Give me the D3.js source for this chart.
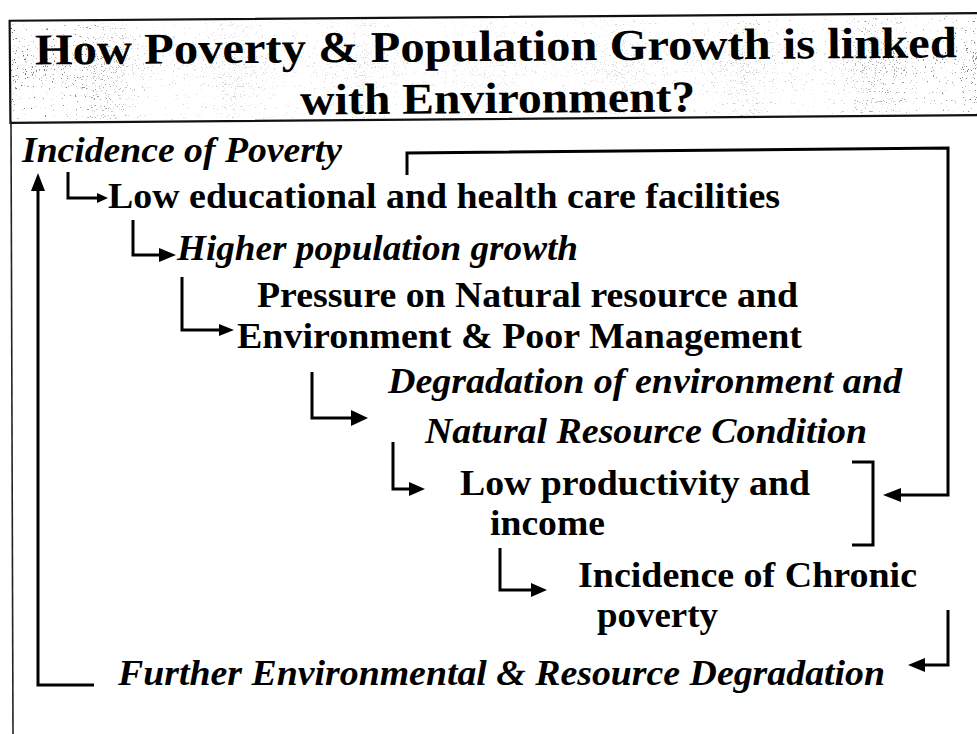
<!DOCTYPE html>
<html>
<head>
<meta charset="utf-8">
<script src="https://cdn.jsdelivr.net/npm/d3@7"></script>
<style>
  html, body { margin: 0; padding: 0; background: #fff; }
  svg { display: block; }
</style>
</head>
<body>
<div id="chart"></div>
<script>
// title lines
const titleLines = [
  "How Poverty & Population Growth is linked",
  "with Environment?"
]

// flow steps, top to bottom
const labels = [
  "Incidence of Poverty",
  "Low educational and health care facilities",
  "Higher population growth",
  "Pressure on Natural resource and",
  "Environment & Poor Management",
  "Degradation of environment and",
  "Natural Resource Condition",
  "Low productivity and",
  "income",
  "Incidence of Chronic",
  "poverty",
  "Further Environmental & Resource Degradation"
]
const italic = [true, false, true, false, false, true, true, false, false, false, false, true]

const W = 977, H = 734
const serif = '"Liberation Serif", "Times New Roman", Times, serif'

const svg = d3.select("#chart")
  .append("svg")
  .attr("width", W)
  .attr("height", H)
  .attr("viewBox", `0 0 ${W} ${H}`)

const defs = svg.append("defs")

// speckled scan texture for the title band
const noise = defs.append("filter")
  .attr("id", "speckle")
  .attr("x", 0).attr("y", 0).attr("width", "100%").attr("height", "100%")
noise.append("feTurbulence")
  .attr("type", "fractalNoise")
  .attr("baseFrequency", 0.9)
  .attr("numOctaves", 2)
  .attr("seed", 7)
noise.append("feColorMatrix")
  .attr("type", "matrix")
  .attr("values", "0 0 0 0 0  0 0 0 0 0  0 0 0 0 0  -14 0 0 0 5.6")

const grad = defs.append("linearGradient")
  .attr("id", "edgeFade")
  .attr("x1", 0).attr("x2", 1).attr("y1", 0).attr("y2", 0)
;[[0, 1], [0.06, 0.8], [0.15, 0.3], [0.5, 0.18], [0.85, 0.35], [1, 0.85]].forEach(([o, a]) => {
  grad.append("stop").attr("offset", o).attr("stop-color", "#fff").attr("stop-opacity", a)
})
const mask = defs.append("mask").attr("id", "fadeMask")
mask.append("rect")
  .attr("x", 0).attr("y", 0).attr("width", W).attr("height", 130)
  .style("fill", "url(#edgeFade)")

// ---- title band ----
const title = svg.append("g")
  .attr("transform", "rotate(-0.45, 490, 66)")

title.append("rect")
  .attr("x", 10).attr("y", 17).attr("width", 985).attr("height", 102)
  .style("fill", "#000")
  .attr("filter", "url(#speckle)")
  .attr("mask", "url(#fadeMask)")
  .style("opacity", 0.65)

title.append("rect")
  .attr("x", 10).attr("y", 17).attr("width", 985).attr("height", 102)
  .style("fill", "none")
  .style("stroke", "#111")
  .style("stroke-width", 2.2)

const titlePos = [
  { x: 35, y: 61, w: 922 },
  { x: 300, y: 113, w: 395 }
]

title.selectAll("text.title")
  .data(titleLines)
  .enter()
  .append("text")
  .attr("class", "title")
  .attr("x", (d, i) => titlePos[i].x)
  .attr("y", (d, i) => titlePos[i].y)
  .attr("textLength", (d, i) => titlePos[i].w)
  .attr("lengthAdjust", "spacingAndGlyphs")
  .text(d => d)
  .style("font-family", serif)
  .style("font-weight", "bold")
  .style("font-size", "44px")
  .style("fill", "#000")

// ---- body frame (left rule) ----
svg.append("line")
  .attr("x1", 11).attr("y1", 121)
  .attr("x2", 13).attr("y2", H)
  .style("stroke", "#222")
  .style("stroke-width", 1.6)

// ---- text steps ----
// x, baseline, width of each label
const layout = [
  [22, 162, 320],
  [108, 208, 672],
  [177, 260, 401],
  [257, 307, 541],
  [237, 348, 565],
  [388, 393, 514],
  [425, 443, 442],
  [460, 495, 350],
  [490, 535, 115],
  [578, 587, 339],
  [597, 627, 121],
  [118, 685, 767]
]

svg.selectAll("text.step")
  .data(labels)
  .enter()
  .append("text")
  .attr("class", "step")
  .attr("x", (d, i) => layout[i][0])
  .attr("y", (d, i) => layout[i][1])
  .attr("textLength", (d, i) => layout[i][2])
  .attr("lengthAdjust", "spacingAndGlyphs")
  .text(d => d)
  .style("font-family", serif)
  .style("font-weight", "bold")
  .style("font-style", (d, i) => italic[i] ? "italic" : "normal")
  .style("font-size", "35px")
  .style("fill", "#000")

// ---- connectors ----
// points of each elbow; last point is the arrow tip (head: [length, half width] or null)
const connectors = [
  { pts: [[68, 172], [68, 198], [108, 198]], head: [11, 5] },
  { pts: [[133, 220], [133, 255], [176, 255]], head: [17, 7] },
  { pts: [[182, 277], [182, 330], [234, 330]], head: [15, 6] },
  { pts: [[312, 372], [312, 418], [368, 418]], head: [17, 8] },
  { pts: [[393, 442], [393, 489], [425, 489]], head: [16, 7] },
  { pts: [[500, 548], [500, 590], [547, 590]], head: [16, 7] },
  { pts: [[407, 175], [407, 153], [948, 148], [948, 495], [883, 495]], head: [18, 7] },
  { pts: [[852, 462], [873, 462], [873, 545], [852, 545]], head: null },
  { pts: [[948, 610], [948, 665], [908, 665]], head: [17, 7] },
  { pts: [[94, 685], [38, 685], [38, 173]], head: [18, 7] }
]

const line = d3.line()

const links = svg.append("g").attr("class", "links")

connectors.forEach(c => {
  const pts = c.pts.map(p => p.slice())
  if (c.head) {
    const [L, hw] = c.head
    const tip = pts[pts.length - 1]
    const prev = pts[pts.length - 2]
    const dx = tip[0] - prev[0], dy = tip[1] - prev[1]
    const len = Math.hypot(dx, dy)
    const ux = dx / len, uy = dy / len
    const bx = tip[0] - ux * L, by = tip[1] - uy * L
    pts[pts.length - 1] = [bx + ux * 2, by + uy * 2]

    links.append("path")
      .attr("d", `M${tip[0]},${tip[1]}L${bx - uy * hw},${by + ux * hw}L${bx + uy * hw},${by - ux * hw}Z`)
      .style("fill", "#000")
  }
  links.append("path")
    .attr("d", line(pts))
    .style("fill", "none")
    .style("stroke", "#000")
    .style("stroke-width", 3)
    .style("stroke-linejoin", "miter")
})
</script>
</body>
</html>
